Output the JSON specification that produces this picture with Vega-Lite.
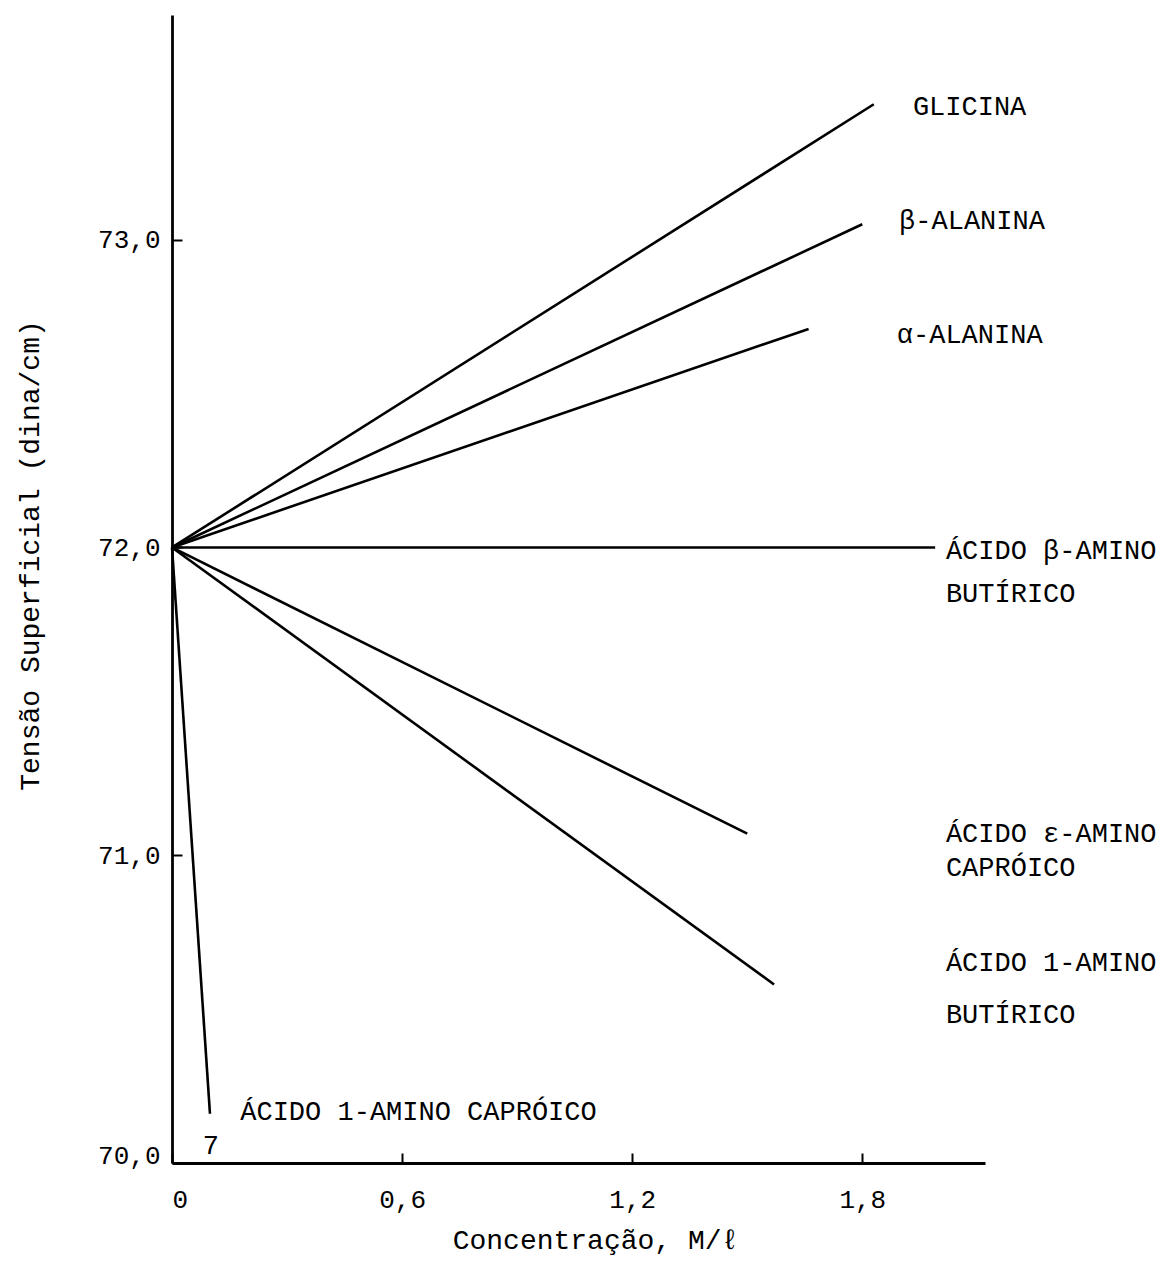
{
  "$schema": "https://vega.github.io/schema/vega-lite/v6.json",
  "autosize": {"type": "none"},
  "width": 813,
  "height": 1148,
  "padding": {"left": 172, "top": 15, "right": 191, "bottom": 119},
  "background": "white",
  "config": {
    "view": {"stroke": null},
    "font": "Liberation Mono",
    "axis": {
      "domainColor": "black",
      "domainWidth": 2.8,
      "tickColor": "black",
      "tickWidth": 2,
      "tickSize": -10,
      "grid": false,
      "labelFont": "Liberation Mono",
      "labelFontSize": 26,
      "labelColor": "black",
      "titleFont": "Liberation Mono",
      "titleFontSize": 28,
      "titleFontWeight": "normal",
      "titleColor": "black"
    }
  },
  "datasets": {
    "curves": [
      {"serie": "Glicina", "conc": 0, "tensao": 72.0},
      {"serie": "Glicina", "conc": 1.83, "tensao": 73.44},
      {"serie": "beta-Alanina", "conc": 0, "tensao": 72.0},
      {"serie": "beta-Alanina", "conc": 1.80, "tensao": 73.05},
      {"serie": "alfa-Alanina", "conc": 0, "tensao": 72.0},
      {"serie": "alfa-Alanina", "conc": 1.66, "tensao": 72.71},
      {"serie": "Ac. beta-amino butirico", "conc": 0, "tensao": 72.0},
      {"serie": "Ac. beta-amino butirico", "conc": 1.99, "tensao": 72.0},
      {"serie": "Ac. epsilon-amino caproico", "conc": 0, "tensao": 72.0},
      {"serie": "Ac. epsilon-amino caproico", "conc": 1.50, "tensao": 71.07},
      {"serie": "Ac. 1-amino butirico", "conc": 0, "tensao": 72.0},
      {"serie": "Ac. 1-amino butirico", "conc": 1.57, "tensao": 70.58},
      {"serie": "Ac. 1-amino caproico", "conc": 0, "tensao": 72.0},
      {"serie": "Ac. 1-amino caproico", "conc": 0.099, "tensao": 70.16}
    ],
    "rotulos": [
      {"texto": "GLICINA", "conc": 1.932, "tensao": 73.43},
      {"texto": "β-ALANINA", "conc": 1.896, "tensao": 73.06},
      {"texto": "α-ALANINA", "conc": 1.890, "tensao": 72.69},
      {"texto": "ÁCIDO β-AMINO", "conc": 2.018, "tensao": 71.99},
      {"texto": "BUTÍRICO", "conc": 2.018, "tensao": 71.85},
      {"texto": "ÁCIDO ε-AMINO", "conc": 2.018, "tensao": 71.07},
      {"texto": "CAPRÓICO", "conc": 2.018, "tensao": 70.96},
      {"texto": "ÁCIDO 1-AMINO", "conc": 2.018, "tensao": 70.65},
      {"texto": "BUTÍRICO", "conc": 2.018, "tensao": 70.48},
      {"texto": "ÁCIDO 1-AMINO CAPRÓICO", "conc": 0.178, "tensao": 70.165}
    ],
    "marcas": [
      {"texto": "7", "conc": 0.101, "tensao": 70.055}
    ]
  },
  "layer": [
    {
      "data": {"name": "curves"},
      "mark": {"type": "line", "color": "black", "strokeWidth": 2.6},
      "encoding": {
        "x": {
          "field": "conc",
          "type": "quantitative",
          "scale": {"domain": [0, 2.12], "nice": false, "zero": false},
          "axis": {
            "values": [0, 0.6, 1.2, 1.8],
            "labelExpr": "datum.value == 0 ? '0' : replace(format(datum.value, '.1f'), '.', ',')",
            "labelPadding": 33,
            "title": "Concentração, M/ℓ",
            "titleX": 423,
            "titleY": 77,
            "titleBaseline": "middle",
            "titleAlign": "center"
          }
        },
        "y": {
          "field": "tensao",
          "type": "quantitative",
          "scale": {"domain": [70, 73.73], "nice": false, "zero": false},
          "axis": {
            "values": [70, 71, 72, 73],
            "labelExpr": "replace(format(datum.value, '.1f'), '.', ',')",
            "labelPadding": 22,
            "labelBaseline": {"condition": {"test": "datum.value == 70", "value": "alphabetic"}, "value": "middle"},
            "title": "Tensão Superficial (dina/cm)",
            "titleX": -142,
            "titleY": 540,
            "titleBaseline": "middle",
            "titleAlign": "center",
            "titleAngle": -90
          }
        },
        "detail": {"field": "serie", "type": "nominal"}
      }
    },
    {
      "data": {"name": "rotulos"},
      "mark": {"type": "text", "align": "left", "baseline": "middle", "fontSize": 27, "font": "Liberation Mono", "color": "black"},
      "encoding": {
        "x": {"field": "conc", "type": "quantitative"},
        "y": {"field": "tensao", "type": "quantitative"},
        "text": {"field": "texto", "type": "nominal"}
      }
    },
    {
      "data": {"name": "marcas"},
      "mark": {"type": "text", "align": "center", "baseline": "middle", "fontSize": 27, "font": "Liberation Mono", "color": "black"},
      "encoding": {
        "x": {"field": "conc", "type": "quantitative"},
        "y": {"field": "tensao", "type": "quantitative"},
        "text": {"field": "texto", "type": "nominal"}
      }
    }
  ]
}
